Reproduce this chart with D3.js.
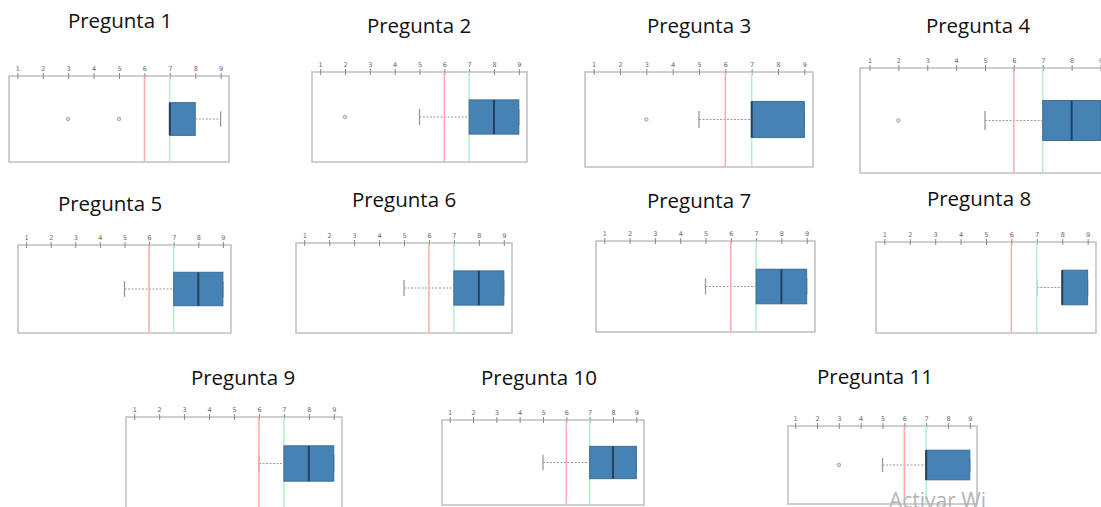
<!DOCTYPE html>
<html>
<head>
<meta charset="utf-8">
<script src="https://cdn.jsdelivr.net/npm/d3@7"></script>
<style>
  body { margin: 0; background: #fff; }
  svg { display: block; }
  .title { font-family: "Open Sans", sans-serif; font-size: 20.5px; fill: #111; }
  .axis text { font-family: "DejaVu Sans", sans-serif; font-size: 6.5px; fill: #666; }
  .axis line { stroke: #888; }
</style>
</head>
<body>
<div id="chart"></div>
<script>
// values, one entry per question
const preguntas = ["Pregunta 1", "Pregunta 2", "Pregunta 3", "Pregunta 4", "Pregunta 5", "Pregunta 6",
  "Pregunta 7", "Pregunta 8", "Pregunta 9", "Pregunta 10", "Pregunta 11"];
const whiskerLow = [7, 5, 5, 5, 5, 5, 5, 7, 6, 5, 5];
const q1 = [7, 7, 7, 7, 7, 7, 7, 8, 7, 7, 7];
const median = [7, 8, 7, 8, 8, 8, 8, 8, 8, 8, 7];
const q3 = [8, 9, 9, 9, 9, 9, 9, 9, 9, 9, 9];
const whiskerHigh = [9, 9, 9, 9, 9, 9, 9, 9, 9, 9, 9];
const outliers = [[3, 5], [2], [3], [2], [], [], [], [], [], [], [3]];
const tickValues = [1, 2, 3, 4, 5, 6, 7, 8, 9];
const refRed = 6;
const refGreen = 7;

// where each small panel sits in the screenshot
const panels = [
  {x0: 9, x1: 229, y0: 76, y1: 162, tx: 120, ty: 28},
  {x0: 312, x1: 527, y0: 72, y1: 162, tx: 419, ty: 33},
  {x0: 585, x1: 813, y0: 72, y1: 167, tx: 699, ty: 33},
  {x0: 860, x1: 1110, y0: 68, y1: 173, tx: 978, ty: 33},
  {x0: 18, x1: 231, y0: 245, y1: 333, tx: 110, ty: 211},
  {x0: 296, x1: 512, y0: 243, y1: 333, tx: 404, ty: 207},
  {x0: 596, x1: 815, y0: 241, y1: 332, tx: 699, ty: 208},
  {x0: 876, x1: 1096, y0: 242, y1: 333, tx: 979, ty: 206},
  {x0: 126, x1: 342, y0: 417, y1: 510, tx: 243, ty: 385},
  {x0: 442, x1: 644, y0: 420, y1: 505, tx: 539, ty: 385},
  {x0: 788, x1: 977, y0: 426, y1: 504, tx: 875, ty: 384}
];

const svg = d3.select('#chart')
  .append('svg')
  .attr('width', 1101)
  .attr('height', 507);

preguntas.forEach((name, i) => {
  const p = panels[i];
  const pad = (p.x1 - p.x0) * 0.038;
  const x = d3.scaleLinear().domain([1, 9]).range([p.x0 + pad, p.x1 - pad]);
  const y = d3.scaleLinear().domain([0, 1]).range([p.y0, p.y1]);
  const g = svg.append('g');

  g.append('text')
    .attr('class', 'title')
    .attr('x', p.tx)
    .attr('y', p.ty)
    .attr('text-anchor', 'middle')
    .text(name);

  // frame
  g.append('rect')
    .attr('x', p.x0).attr('y', p.y0)
    .attr('width', p.x1 - p.x0).attr('height', p.y1 - p.y0)
    .style('fill', 'white')
    .style('stroke', '#c4c4c4')
    .style('stroke-width', 1.6);

  const axis = g.append('g')
    .attr('class', 'axis')
    .attr('transform', 'translate(0,' + (p.y0 + 3) + ')')
    .call(d3.axisTop(x).tickValues(tickValues).tickSizeInner(6).tickSizeOuter(0).tickPadding(2));
  axis.select('.domain').remove();

  // whiskers (dotted) and caps
  g.append('line')
    .attr('x1', x(whiskerLow[i])).attr('x2', x(q1[i]))
    .attr('y1', y(0.5)).attr('y2', y(0.5))
    .style('stroke', '#9a9a9a').style('stroke-width', 1.2).style('stroke-dasharray', '2,1.5');
  g.append('line')
    .attr('x1', x(q3[i])).attr('x2', x(whiskerHigh[i]))
    .attr('y1', y(0.5)).attr('y2', y(0.5))
    .style('stroke', '#9a9a9a').style('stroke-width', 1.2).style('stroke-dasharray', '2,1.5');
  [whiskerLow[i], whiskerHigh[i]].forEach(v => {
    g.append('line')
      .attr('x1', x(v)).attr('x2', x(v))
      .attr('y1', y(0.41)).attr('y2', y(0.59))
      .style('stroke', '#999').style('stroke-width', 1.3);
  });

  g.selectAll('circle.out')
    .data(outliers[i])
    .enter()
    .append('circle')
    .attr('class', 'out')
    .attr('cx', d => x(d))
    .attr('cy', y(0.5))
    .attr('r', 1.8)
    .style('fill', '#ddd')
    .style('stroke', '#aaa');

  // reference lines
  g.append('line')
    .attr('x1', x(refRed)).attr('x2', x(refRed))
    .attr('y1', p.y0).attr('y2', p.y1)
    .style('stroke', '#ffaaaa').style('stroke-width', 1.5);
  g.append('line')
    .attr('x1', x(refGreen)).attr('x2', x(refGreen))
    .attr('y1', p.y0).attr('y2', p.y1)
    .style('stroke', '#b5efca').style('stroke-width', 1.5);

  // box and median
  g.append('rect')
    .attr('x', x(q1[i])).attr('y', y(0.31))
    .attr('width', x(q3[i]) - x(q1[i])).attr('height', y(0.69) - y(0.31))
    .style('fill', '#4682b4')
    .style('stroke', '#3b6d99')
    .style('stroke-width', 1);
  g.append('line')
    .attr('x1', x(median[i])).attr('x2', x(median[i]))
    .attr('y1', y(0.31)).attr('y2', y(0.69))
    .style('stroke', '#24405e').style('stroke-width', 2);
});

svg.append('text')
  .attr('x', 889)
  .attr('y', 508)
  .style('font-family', '"Open Sans", sans-serif')
  .style('font-size', '21px')
  .style('fill', '#b5b5b5')
  .text('Activar Wi');
</script>
</body>
</html>
